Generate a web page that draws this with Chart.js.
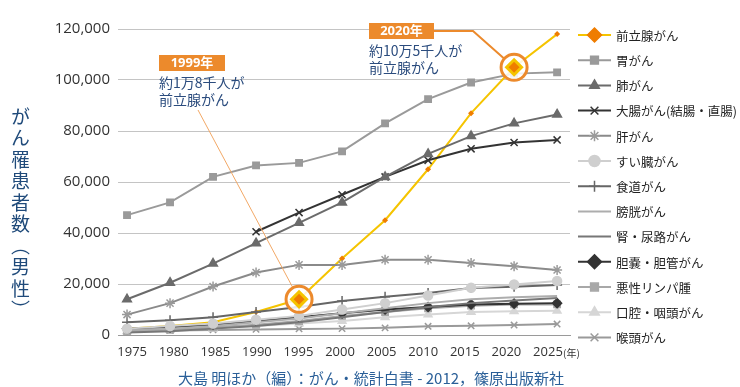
<!DOCTYPE html>
<html>
<head>
<meta charset="utf-8">
<script src="https://cdn.jsdelivr.net/npm/chart.js@4"></script>
<style>
    html, body { margin: 0; padding: 0; background: #fff; }
    #wrap { position: relative; width: 740px; height: 387px; }
    #yTitle {
        position: absolute; left: 7px; top: 107px;
        writing-mode: vertical-rl;
        font: 19px 'Noto Sans CJK JP'; color: #1f4a7a; letter-spacing: 2.5px;
    }
    #yearUnit { position: absolute; left: 563px; top: 345px; font: 10px 'Noto Sans CJK JP'; color: #333; }
    #source { position: absolute; left: 178px; top: 367px; font: 15px 'Noto Sans CJK JP'; color: #2a5f98; white-space: nowrap; }
</style>
</head>
<body>
<div id="wrap">
    <canvas id="cancerChart" width="740" height="387"></canvas>
    <div id="yTitle">がん罹患者数（男性）</div>
    <div id="yearUnit">(年)</div>
    <div id="source">大島 明ほか（編）：がん・統計白書 - 2012，篠原出版新社</div>
</div>
<script>
// Years on the x axis
const years = [1975, 1980, 1985, 1990, 1995, 2000, 2005, 2010, 2015, 2020, 2025];
const yTicks = [0, 20000, 40000, 60000, 80000, 100000, 120000];

// Series values (men, number of new cases)
const prostate   = [2500, 3500, 5000, 9000, 14000, 30000, 45000, 65000, 87000, 105000, 118000];
const stomach    = [47000, 52000, 62000, 66500, 67500, 72000, 83000, 92500, 99000, 102500, 103000];
const lung       = [14000, 20500, 28000, 36000, 44000, 52000, 62000, 71000, 78000, 83000, 86500];
const colorectal = [null, null, null, 40500, 48000, 55000, 62000, 68500, 73000, 75500, 76500];
const liver      = [8000, 12500, 19000, 24500, 27500, 27500, 29500, 29500, 28200, 27000, 25500];
const pancreas   = [2500, 3500, 4500, 6000, 7500, 10000, 12500, 15500, 18500, 19800, 21200];
const esophagus  = [5000, 5800, 7000, 9000, 11000, 13300, 15000, 16500, 18400, 18900, 19600];
const bladder    = [2000, 2500, 3500, 5000, 6500, 8500, 10500, 12500, 14000, 14800, 15300];
const kidney     = [1000, 1500, 2500, 3500, 5000, 7000, 9000, 11000, 12500, 13500, 14500];
const gallbladder= [2500, 3000, 4000, 5500, 7000, 8500, 10000, 11000, 12000, 12300, 12500];
const lymphoma   = [1500, 2000, 3000, 4000, 5500, 7500, 9000, 10500, 11500, 12000, 12000];
const oral       = [1500, 2000, 2500, 3500, 4500, 5500, 7000, 8000, 9000, 9300, 9500];
const larynx     = [1500, 1800, 2000, 2200, 2400, 2500, 2800, 3400, 3600, 3900, 4300];

// Highlighted prostate points (index into years)
const highlights = [4, 9];

function toPoints(values) {
    return values.map((v, i) => ({ x: years[i], y: v }));
}

function series(label, values, color, style, pointColor, radius) {
    return {
        label: label,
        data: toPoints(values),
        borderColor: color,
        backgroundColor: pointColor || color,
        pointBorderColor: pointColor || color,
        pointBackgroundColor: pointColor || color,
        borderWidth: 2,
        pointStyle: style || false,
        pointRadius: style ? (radius || 4) : 0,
        pointBorderWidth: 1.5,
        tension: 0,
        order: 0
    };
}

const datasets = [
    series('前立腺がん', prostate, '#f5c400', 'rectRot', '#ef7d00', 3),
    series('胃がん', stomach, '#9a9a9a', 'rect', '#9a9a9a', 4.5),
    series('肺がん', lung, '#6b6b6b', 'triangle', '#6b6b6b', 5),
    series('大腸がん(結腸・直腸)', colorectal, '#333333', 'crossRot', '#333333', 5),
    series('肝がん', liver, '#8a8a8a', 'star', '#9a9a9a', 5),
    series('すい臓がん', pancreas, '#cfcfcf', 'circle', '#cfcfcf', 4.5),
    series('食道がん', esophagus, '#666666', 'cross', '#666666', 5),
    series('膀胱がん', bladder, '#adadad', null),
    series('腎・尿路がん', kidney, '#777777', null),
    series('胆嚢・胆管がん', gallbladder, '#333333', 'rectRot', '#333333', 4.5),
    series('悪性リンパ腫', lymphoma, '#a8a8a8', 'rect', '#a8a8a8', 4.5),
    series('口腔・咽頭がん', oral, '#d6d6d6', 'triangle', '#d6d6d6', 4.5),
    series('喉頭がん', larynx, '#9a9a9a', 'crossRot', '#9a9a9a', 4.5)
];
// prostate line sits under the others, with small markers
datasets[0].order = 1;
datasets[0].pointBorderWidth = 0;

const JP = "'Noto Sans CJK JP', sans-serif";
const NUM = "'Open Sans', 'Noto Sans CJK JP', sans-serif";
const ORANGE = '#ec8a2c';

// Custom legend: line sample + marker, one entry per row on the right
const sideLegend = {
    id: 'sideLegend',
    afterDraw(chart) {
        const ctx = chart.ctx;
        chart.data.datasets.forEach((ds, i) => {
            const y = 35 + i * 25.2;
            ctx.save();
            ctx.strokeStyle = ds.borderColor;
            ctx.lineWidth = 2;
            ctx.beginPath();
            ctx.moveTo(578, y);
            ctx.lineTo(611, y);
            ctx.stroke();
            if (ds.pointStyle) {
                ctx.fillStyle = ds.pointBackgroundColor;
                ctx.strokeStyle = ds.pointBorderColor;
                ctx.lineWidth = 1.5;
                const r = ds.pointStyle === 'rectRot' ? 7 : 5.5;
                Chart.helpers.drawPoint(ctx, { pointStyle: ds.pointStyle, radius: r, rotation: 0, borderWidth: 1.5 }, 594.5, y);
            }
            ctx.fillStyle = '#222';
            ctx.font = '12.5px ' + JP;
            ctx.textBaseline = 'middle';
            ctx.textAlign = 'left';
            ctx.fillText(ds.label, 616, y + 1);
            ctx.restore();
        });
    }
};

// Circles around the two highlighted prostate points plus their notes
const callouts = {
    id: 'callouts',
    afterDatasetsDraw(chart) {
        const ctx = chart.ctx;
        const xs = chart.scales.x, ys = chart.scales.y;
        const centers = highlights.map(i => ({ x: xs.getPixelForValue(years[i]), y: ys.getPixelForValue(prostate[i]) }));
        const r = 13;

        ctx.save();
        // 1999 leader
        let c = centers[0];
        let sx = 198, sy = 110;
        let d = Math.hypot(c.x - sx, c.y - sy);
        ctx.strokeStyle = '#f2a866';
        ctx.lineWidth = 1;
        ctx.beginPath();
        ctx.moveTo(sx, sy);
        ctx.lineTo(c.x - (c.x - sx) / d * r, c.y - (c.y - sy) / d * r);
        ctx.stroke();

        // 2020 leader
        c = centers[1];
        sx = 473; sy = 31;
        d = Math.hypot(c.x - sx, c.y - sy);
        ctx.strokeStyle = ORANGE;
        ctx.lineWidth = 2;
        ctx.beginPath();
        ctx.moveTo(434, 31);
        ctx.lineTo(sx, sy);
        ctx.lineTo(c.x - (c.x - sx) / d * r, c.y - (c.y - sy) / d * r);
        ctx.stroke();

        centers.forEach(p => {
            ctx.beginPath();
            ctx.arc(p.x, p.y, r, 0, Math.PI * 2);
            ctx.fillStyle = 'rgba(255,255,255,0.85)';
            ctx.fill();
            ctx.lineWidth = 3;
            ctx.strokeStyle = ORANGE;
            ctx.stroke();
            ctx.fillStyle = '#ef7d00';
            ctx.strokeStyle = '#f5c400';
            Chart.helpers.drawPoint(ctx, { pointStyle: 'rectRot', radius: 7.5, rotation: 0, borderWidth: 1 }, p.x, p.y);
        });

        // note boxes
        const notes = [
            { x: 159, y: 55, w: 66, tag: '1999年', lines: ['約1万8千人が', '前立腺がん'] },
            { x: 369, y: 23, w: 65, tag: '2020年', lines: ['約10万5千人が', '前立腺がん'] }
        ];
        notes.forEach(n => {
            ctx.fillStyle = ORANGE;
            ctx.fillRect(n.x, n.y, n.w, 16);
            ctx.fillStyle = '#fff';
            ctx.font = 'bold 13px ' + NUM;
            ctx.textAlign = 'center';
            ctx.textBaseline = 'middle';
            ctx.fillText(n.tag, n.x + n.w / 2, n.y + 8.5);
            ctx.fillStyle = '#2b4c7e';
            ctx.font = '14px ' + JP;
            ctx.textAlign = 'left';
            ctx.fillText(n.lines[0], n.x, n.y + 28);
            ctx.fillText(n.lines[1], n.x, n.y + 45);
        });
        ctx.restore();
    }
};

new Chart(document.getElementById('cancerChart'), {
    type: 'line',
    data: { datasets: datasets },
    options: {
        responsive: false,
        animation: false,
        layout: { padding: { left: 0, right: 170, top: 29, bottom: 0 } },
        plugins: { legend: { display: false }, tooltip: { enabled: false } },
        scales: {
            x: {
                type: 'linear',
                min: 1973.95,
                max: 2026.5,
                afterFit: s => { s.height = 0; },
                grid: { display: false, drawTicks: false },
                border: { display: true, color: '#9a9a9a', width: 1 },
                ticks: { display: false }
            },
            // label-only axis: the year labels sit slightly tighter than the points
            xLabels: {
                type: 'linear',
                position: 'bottom',
                min: 1973.3,
                max: 2027.65,
                afterBuildTicks: s => { s.ticks = years.map(v => ({ value: v })); },
                afterFit: s => { s.height = 52; },
                grid: { display: false, drawTicks: false },
                border: { display: false },
                ticks: {
                    color: '#333',
                    padding: 9,
                    maxRotation: 0,
                    autoSkip: false,
                    font: { family: NUM, size: 13 },
                    callback: v => String(v)
                }
            },
            y: {
                min: 0,
                max: 120000,
                afterBuildTicks: s => { s.ticks = yTicks.map(v => ({ value: v })); },
                afterFit: s => { s.width = 118; },
                grid: { color: '#c4c4c4', lineWidth: 1, drawTicks: false },
                border: { display: false },
                ticks: {
                    color: '#333',
                    padding: 8,
                    font: { family: NUM, size: 15 },
                    callback: v => v.toLocaleString('en-US')
                }
            }
        }
    },
    plugins: [callouts, sideLegend]
});
</script>
</body>
</html>
